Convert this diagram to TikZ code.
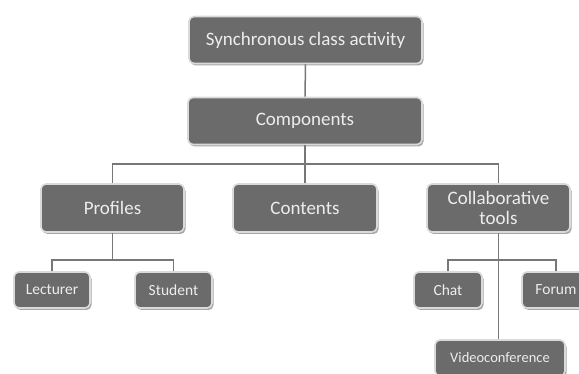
\documentclass[tikz,border=0pt]{standalone}
\usepackage{fontspec}
\setmainfont{Carlito}
\usetikzlibrary{shadows}
\definecolor{boxgray}{HTML}{6B6B6B}
\definecolor{edgegray}{HTML}{DADADA}
\definecolor{linegray}{HTML}{777777}
\definecolor{txtgray}{HTML}{EDEDED}
\begin{document}
\begin{tikzpicture}[x=1pt,y=-1pt,
  box/.style={draw=edgegray, line width=1.6pt, fill=boxgray, rounded corners=5pt,
    text=txtgray, align=center, inner sep=0pt,
    drop shadow={shadow xshift=1.5pt, shadow yshift=-2pt, opacity=0.35, fill=black}},
  bigbox/.style={box, font=\fontsize{19}{20.5}\selectfont},
  smallbox/.style={box, font=\fontsize{15.5}{17}\selectfont},
  conn/.style={draw=linegray, line width=1.5pt}]
\useasboundingbox (0,0) rectangle (579,374);
\clip (0,0) rectangle (579,374);
\node[bigbox, minimum width=233pt, minimum height=47pt] (syn) at (305.5,40) {Synchronous class activity};
\node[bigbox, minimum width=234pt, minimum height=47pt] (comp) at (305,121) {Components};
\node[bigbox, minimum width=143pt, minimum height=48pt] (prof) at (112.5,208) {Profiles};
\node[bigbox, minimum width=144pt, minimum height=48pt] (cont) at (305,208) {Contents};
\node[bigbox, minimum width=143pt, minimum height=48pt] (coll) at (498.5,208) {Collaborative\\tools};
\node[smallbox, minimum width=76pt, minimum height=36pt] (lect) at (52,290) {Lecturer};
\node[smallbox, minimum width=77pt, minimum height=36pt] (stud) at (173.5,290) {Student};
\node[smallbox, minimum width=68pt, minimum height=36pt] (chat) at (448,290) {Chat};
\node[smallbox, minimum width=68pt, minimum height=36pt] (forum) at (556,290) {Forum};
\node[box, font=\fontsize{14.5}{16}\selectfont, minimum width=130pt, minimum height=36pt] (video) at (500,358) {Videoconference};
\coordinate (bus) at (0,164);
\coordinate (pbus) at (0,260);
\coordinate (cbus) at (0,260);
\draw[conn] (syn.south) -- (comp.north);
\draw[conn] (comp.south) -- (comp.south |- bus) -| (prof.north);
\draw[conn] (comp.south |- bus) -| (coll.north);
\draw[conn] (comp.south) -- (cont.north);
\draw[conn] (prof.south) -- (prof.south |- pbus);
\draw[conn] (lect.north) |- (prof.south |- pbus) -| (stud.north);
\draw[conn] (coll.south) -- (coll.south |- video.north);
\draw[conn] (chat.north) |- (coll.south |- cbus) -| (forum.north);
\end{tikzpicture}
\end{document}
